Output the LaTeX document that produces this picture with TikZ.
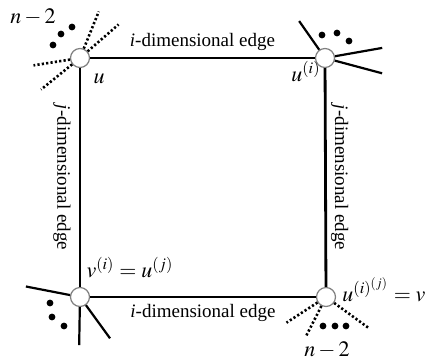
\documentclass[tikz,border=0pt]{standalone}
\usepackage{mathptmx}
\usepackage[no-math]{fontspec}
\setmainfont{Liberation Serif}
\usetikzlibrary{positioning}

\begin{document}
\begin{tikzpicture}[x=0.5pt, y=0.5pt,
    every node/.style={font=\fontsize{9.5}{11}\selectfont},
    vert/.style={circle, draw=gray, fill=white, line width=0.6pt, minimum size=9.5pt, inner sep=0pt},
    edge/.style={line width=1.4pt},
    ray/.style={line width=1.1pt},
    dotray/.style={line width=1.3pt, dash pattern=on 1.1pt off 1.1pt},
    lbl/.style={inner sep=1pt},
    mlbl/.style={font=\fontsize{11}{13}\selectfont}]
  \useasboundingbox (0,0) rectangle (427,360);
  % vertices of the 4-cycle
  \node[vert] (u)  at (80,302)  {};
  \node[vert] (ui) at (325,302) {};
  \node[vert] (vi) at (80,63)   {};
  \node[vert] (v)  at (326,63)  {};
  % edges
  \draw[edge] (u) -- node[lbl, above=2pt] {\textit{i}-dimensional edge} (ui);
  \draw[edge] (vi) -- node[lbl, below=2pt] {\textit{i}-dimensional edge} (v);
  \draw[edge] (u) -- node[lbl, rotate=-90, anchor=north, yshift=-3pt] {\textit{j}-dimensional edge} (vi);
  \draw[edge] (ui) -- node[lbl, rotate=-90, anchor=south, yshift=1pt] {\textit{j}-dimensional edge} (v);
  % other n-2 neighbours
  \foreach \a/\l in {68/40, 41/41, 189/37, 219/40}
    \draw[dotray] (u.\a) -- ++(\a:\l);
  \foreach \a/\l in {125/35, 10/48, -15/49}
    \draw[ray] (ui.\a) -- ++(\a:\l);
  \foreach \a/\l in {169/45, 269/38, 306/41}
    \draw[ray] (vi.\a) -- ++(\a:\l);
  \foreach \a/\l in {213/37, 243/34, 324/43}
    \draw[dotray] (v.\a) -- ++(\a:\l);
  % dots
  \foreach \p in {(53,315), (61,326), (72,333), (322,325), (337,327), (349,319),
                  (50,57), (52,43), (64,34), (323,34), (335,34), (346,34)}
    \fill \p circle[radius=3.4];
  % labels
  \node[mlbl] (n1) at (33,343) {$n-2$};
  \node[mlbl] (n2) at (327,10) {$n-2$};
  \node[mlbl] (lu)  at (99,281)  {$u$};
  \node[mlbl] (lui) at (306,288) {$u^{(i)}$};
  \node[mlbl] (lvi) at (130,92)  {$v^{(i)}=u^{(j)}$};
  \node[mlbl] (lv)  at (384,70)  {$u^{(i)^{(j)}}=v$};
\end{tikzpicture}
\end{document}
